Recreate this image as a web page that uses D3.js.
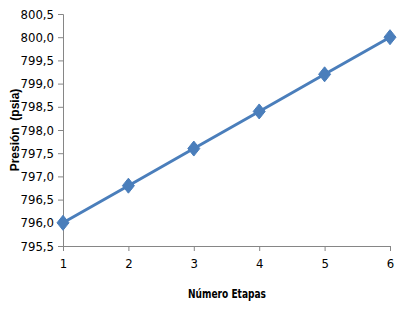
<!DOCTYPE html>
<html>
<head>
<meta charset="utf-8">
<script src="https://cdn.jsdelivr.net/npm/d3@7"></script>
<style>
  body { margin: 0; background: #fff; }
  svg { display: block; }
</style>
</head>
<body>
<div id="chart"></div>
<script>
// --- Data ---
const etapas = [1, 2, 3, 4, 5, 6];
const presion = [796.0, 796.8, 797.6, 798.4, 799.2, 800.0];
const yTicks = [795.5, 796.0, 796.5, 797.0, 797.5, 798.0, 798.5, 799.0, 799.5, 800.0, 800.5];

const W = 408, H = 310;
const plotL = 63, plotR = 390, plotT = 14, plotB = 246;
const blue = "#4A7EBB";
const axisGrey = "#868686";
const tickFont = "'DejaVu Sans Condensed', 'Liberation Sans Narrow', Arial, sans-serif";

const svg = d3.select("#chart").append("svg")
  .attr("width", W).attr("height", H);

const x = d3.scaleLinear().domain([1, 6]).range([plotL, plotR]);
const y = d3.scaleLinear().domain([795.5, 800.5]).range([plotB, plotT]);

const fmt = d => d.toFixed(1).replace(".", ",");

// --- Y axis ---
const yAxis = svg.append("g")
  .attr("transform", `translate(${plotL},0)`)
  .call(d3.axisLeft(y).tickValues(yTicks).tickFormat(fmt).tickSize(5).tickPadding(4));
yAxis.select(".domain").attr("stroke", axisGrey);
yAxis.selectAll(".tick line").attr("stroke", axisGrey);
yAxis.selectAll("text")
  .style("font-family", tickFont)
  .style("font-size", "13px")
  .attr("fill", "#000");

// --- X axis ---
const xAxis = svg.append("g")
  .attr("transform", `translate(0,${plotB})`)
  .call(d3.axisBottom(x).tickValues(etapas).tickFormat(d3.format("d")).tickSize(5).tickPadding(8));
xAxis.select(".domain").attr("stroke", axisGrey);
xAxis.selectAll(".tick line").attr("stroke", axisGrey);
xAxis.selectAll("text")
  .style("font-family", tickFont)
  .style("font-size", "13px")
  .attr("fill", "#000");

// --- Axis titles ---
svg.append("text")
  .attr("x", 227).attr("y", 298)
  .attr("text-anchor", "middle")
  .attr("textLength", 78)
  .attr("lengthAdjust", "spacingAndGlyphs")
  .style("font-family", tickFont)
  .style("font-size", "12px")
  .style("font-weight", "bold")
  .text("Número Etapas");

svg.append("text")
  .attr("transform", `translate(19,${(plotT + plotB) / 2}) rotate(-90)`)
  .attr("text-anchor", "middle")
  .style("font-family", "'Liberation Sans', Arial, sans-serif")
  .style("font-size", "12px")
  .style("font-weight", "bold")
  .style("white-space", "pre")
  .text("Presión  (psia)");

// --- Series line ---
const pts = etapas.map((e, i) => [e, presion[i]]);
svg.append("path")
  .datum(pts)
  .attr("fill", "none")
  .attr("stroke", blue)
  .attr("stroke-width", 3)
  .attr("d", d3.line().x(d => x(d[0])).y(d => y(d[1])));

// --- Diamond markers ---
svg.selectAll(".marker")
  .data(pts)
  .join("path")
  .attr("class", "marker")
  .attr("transform", d => `translate(${x(d[0])},${y(d[1])})`)
  .attr("d", "M0,-7.5L6,0L0,7.5L-6,0Z")
  .attr("fill", blue)
  .attr("stroke", blue)
  .attr("stroke-width", 1);
</script>
</body>
</html>
